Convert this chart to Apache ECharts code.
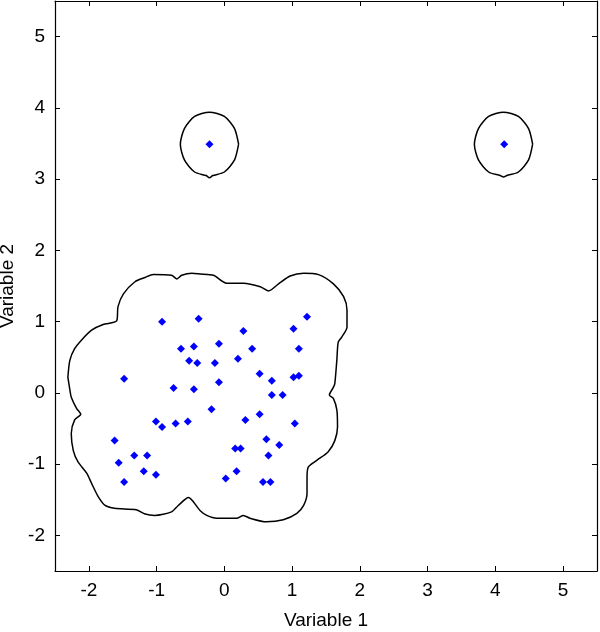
<!DOCTYPE html>
<html>
<head>
<meta charset="utf-8">
<script src="https://cdn.jsdelivr.net/npm/echarts@6/dist/echarts.min.js"></script>
<style>
  html, body { margin: 0; padding: 0; background: #fff; }
  #chart { width: 600px; height: 632px; }
</style>
</head>
<body>
<div id="chart"></div>
<script>
// observations
var var1 = [-0.22, 4.13, -0.92, -0.38, 0.28, 1.02, 1.22, -0.64, -0.45, -0.08, 0.41, 1.10, -0.52, -0.40, -0.14, 0.20, 0.52, 1.02, 1.10, 0.70,
  -1.48, -0.75, -0.45, -0.08, 0.70, 0.86, -0.19, 0.52, 0.31, 1.04, -1.01, -0.92, -0.72, -0.54, -1.62, 0.62, 0.81, 0.16, 0.24, 0.65,
  -1.33, -1.14, -1.56, -1.19, -1.01, 0.18, 0.02, -1.48, 0.57, 0.68]
var var2 = [3.49, 3.49, 1.00, 1.04, 0.87, 0.90, 1.07, 0.62, 0.65, 0.69, 0.62, 0.62, 0.45, 0.42, 0.42, 0.48, 0.27, 0.22, 0.24, 0.17,
  0.20, 0.07, 0.05, 0.15, -0.03, -0.03, -0.23, -0.30, -0.38, -0.43, -0.40, -0.48, -0.43, -0.40, -0.67, -0.65, -0.73, -0.78, -0.78, -0.88,
  -0.88, -0.88, -0.98, -1.10, -1.15, -1.10, -1.20, -1.25, -1.25, -1.25]

// boundary contours
var clusterEdge = [[-2.31, 0.22], [-2.28, 0.46], [-2.21, 0.62], [-2.11, 0.74], [-1.96, 0.88], [-1.79, 0.96], [-1.59, 1.01], [-1.57, 1.21],
  [-1.49, 1.39], [-1.32, 1.56], [-1.17, 1.62], [-1.05, 1.66], [-0.78, 1.65], [-0.70, 1.60], [-0.63, 1.65], [-0.48, 1.68], [-0.36, 1.67],
  [-0.16, 1.65], [0.03, 1.54], [0.28, 1.54], [0.53, 1.49], [0.65, 1.43], [0.80, 1.53], [0.97, 1.64], [1.17, 1.68], [1.39, 1.66],
  [1.61, 1.53], [1.76, 1.35], [1.81, 1.16], [1.81, 0.92], [1.73, 0.78], [1.68, 0.71], [1.66, 0.46], [1.63, 0.13], [1.61, 0.08],
  [1.55, -0.03], [1.61, -0.08], [1.66, -0.24], [1.67, -0.48], [1.63, -0.67], [1.53, -0.83], [1.36, -0.95], [1.24, -1.04], [1.22, -1.18],
  [1.22, -1.41], [1.17, -1.58], [1.07, -1.69], [0.87, -1.78], [0.62, -1.81], [0.38, -1.76], [0.28, -1.72], [0.18, -1.76], [-0.11, -1.76],
  [-0.26, -1.72], [-0.36, -1.65], [-0.53, -1.47], [-0.68, -1.58], [-0.78, -1.67], [-1.03, -1.72], [-1.17, -1.70], [-1.30, -1.64],
  [-1.62, -1.62], [-1.76, -1.58], [-1.86, -1.46], [-1.96, -1.27], [-2.03, -1.13], [-2.16, -0.97], [-2.23, -0.81], [-2.26, -0.57],
  [-2.21, -0.38], [-2.12, -0.30], [-2.18, -0.22], [-2.26, -0.06], [-2.28, 0.04], [-2.31, 0.22]]
var circleA = [[0.21, 3.49], [0.15, 3.71], [0.00, 3.88], [-0.22, 3.94], [-0.44, 3.88], [-0.59, 3.71], [-0.65, 3.49], [-0.59, 3.27],
  [-0.44, 3.10], [-0.27, 3.05], [-0.22, 3.02], [-0.17, 3.05], [0.00, 3.10], [0.15, 3.27], [0.21, 3.49]]
var circleB = [[4.55, 3.49], [4.49, 3.71], [4.34, 3.88], [4.12, 3.94], [3.90, 3.88], [3.75, 3.71], [3.69, 3.49], [3.75, 3.27],
  [3.90, 3.10], [4.07, 3.05], [4.12, 3.03], [4.17, 3.05], [4.34, 3.10], [4.49, 3.27], [4.55, 3.49]]

var axisMin = -2.5
var axisMax = 5.5

var chart = echarts.init(document.getElementById('chart'))

var font = 'Liberation Sans, Arial, sans-serif'
function intLabel (v) {
  return Number.isInteger(v) ? String(v) : ''
}
function axis (pos, showLabels, name) {
  return {
    type: 'value',
    position: pos,
    min: axisMin,
    max: axisMax,
    splitNumber: 8,
    name: name || '',
    nameLocation: 'middle',
    nameGap: pos === 'left' ? 32 : 40,
    nameTextStyle: { color: '#000', fontFamily: font, fontSize: 19 },
    axisLine: { show: true, onZero: false, lineStyle: { color: '#000', width: 1.2 } },
    axisTick: { show: true, inside: true, length: 5, lineStyle: { color: '#000' } },
    axisLabel: { show: showLabels, color: '#000', fontFamily: font, fontSize: 19, margin: 10, formatter: intLabel },
    splitLine: { show: false }
  }
}

var points = var1.map(function (x, i) { return [x, var2[i]] })

function contour (d) {
  return {
    type: 'line',
    data: d,
    showSymbol: false,
    smooth: 0.25,
    lineStyle: { color: '#000', width: 1.5 },
    z: 1,
    silent: true
  }
}

chart.setOption({
  animation: false,
  grid: { left: 55, right: 3, top: 1, bottom: 61, containLabel: false, outerBoundsMode: 'none' },
  xAxis: [axis('bottom', true, 'Variable 1'), axis('top', false)],
  yAxis: [axis('left', true, 'Variable 2'), axis('right', false)],
  series: [
    contour(clusterEdge),
    contour(circleA),
    contour(circleB),
    {
      type: 'scatter',
      data: points,
      symbol: 'diamond',
      symbolSize: 8,
      itemStyle: { color: '#0000ff', opacity: 1 },
      z: 3
    }
  ]
})
</script>
</body>
</html>
